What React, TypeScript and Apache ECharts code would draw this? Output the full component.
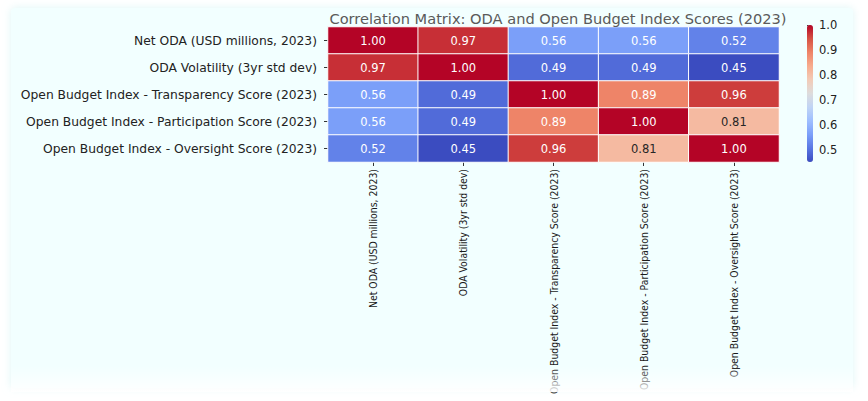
import React, { useEffect, useRef } from "react";
import * as echarts from "echarts";

const variables = [
  "Net ODA (USD millions, 2023)",
  "ODA Volatility (3yr std dev)",
  "Open Budget Index - Transparency Score (2023)",
  "Open Budget Index - Participation Score (2023)",
  "Open Budget Index - Oversight Score (2023)",
];

const matrix: number[][] = [
  [1.0, 0.97, 0.56, 0.56, 0.52],
  [0.97, 1.0, 0.49, 0.49, 0.45],
  [0.56, 0.49, 1.0, 0.89, 0.96],
  [0.56, 0.49, 0.89, 1.0, 0.81],
  [0.52, 0.45, 0.96, 0.81, 1.0],
];

const colorbarTicks = [0.5, 0.6, 0.7, 0.8, 0.9, 1.0];
const scaleMin = 0.45;
const scaleMax = 1.0;

const coolwarm = [
  "#3b4cc0", "#5977e3", "#7b9ff9", "#9ebeff", "#c0d4f5", "#dddcdc",
  "#f2cbb7", "#f7ac8e", "#ee8468", "#d65244", "#b40426",
];

function hexToRgb(h: string) {
  return [1, 3, 5].map((i) => parseInt(h.slice(i, i + 2), 16) / 255);
}

function colorAt(v: number) {
  const t = Math.min(1, Math.max(0, (v - scaleMin) / (scaleMax - scaleMin)));
  const p = t * (coolwarm.length - 1);
  const i = Math.min(coolwarm.length - 2, Math.floor(p));
  const f = p - i;
  const a = hexToRgb(coolwarm[i]);
  const b = hexToRgb(coolwarm[i + 1]);
  return a.map((x, k) => x + (b[k] - x) * f);
}

function textColorFor(v: number) {
  const c = colorAt(v).map((x) => (x <= 0.03928 ? x / 12.92 : Math.pow((x + 0.055) / 1.055, 2.4)));
  const lum = 0.2126 * c[0] + 0.7152 * c[1] + 0.0722 * c[2];
  return lum > 0.408 ? "#262626" : "#ffffff";
}

export default function App() {
  const ref = useRef<HTMLDivElement>(null);
  useEffect(() => {
    document.body.style.margin = "0";
    const chart = echarts.init(ref.current!, null, { renderer: "svg" });
    const data: any[] = [];
    matrix.forEach((row, r) =>
      row.forEach((v, c) => {
        data.push({
          value: [c, r, v],
          label: { color: textColorFor(v) },
        });
      })
    );
    const font = "'DejaVu Sans', sans-serif";
    chart.setOption({
      animation: false,
      backgroundColor: "#ffffff",
      graphic: [
        {
          type: "rect",
          z: -10,
          shape: { x: 11, y: 8, width: 842, height: 380, r: 4 },
          style: { fill: "#f2ffff", shadowBlur: 8, shadowColor: "rgba(200,240,240,0.6)" },
          silent: true,
        },
        {
          type: "rect",
          z: 100,
          shape: { x: 11, y: 366, width: 842, height: 26 },
          style: {
            fill: new echarts.graphic.LinearGradient(0, 0, 0, 1, [
              { offset: 0, color: "rgba(255,255,255,0)" },
              { offset: 1, color: "rgba(255,255,255,0.9)" },
            ]),
          },
          silent: true,
        },
      ],
      title: {
        text: "Correlation Matrix: ODA and Open Budget Index Scores (2023)",
        left: 553,
        textAlign: "center",
        top: 6,
        textStyle: { fontFamily: font, fontSize: 14.6, fontWeight: "normal", color: "#5a5a5a" },
      },
      grid: [
        { left: 328, right: 89, top: 27, bottom: 239, outerBoundsMode: "none", containLabel: false },
        { left: 807, width: 6, top: 25, bottom: 239, outerBoundsMode: "none", containLabel: false },
      ],
      xAxis: [
        {
          type: "category",
          data: variables,
          gridIndex: 0,
          position: "bottom",
          axisLine: { show: false },
          axisTick: { show: true, length: 4, lineStyle: { color: "#333" }, alignWithLabel: true },
          splitLine: { show: false },
          axisLabel: {
            rotate: 90,
            margin: 7,
            fontFamily: "'Liberation Sans Narrow', 'DejaVu Sans Condensed', sans-serif",
            fontSize: 10.4,
            color: "#1a1a1a",
            interval: 0,
          },
        },
        { type: "value", gridIndex: 1, show: false, min: 0, max: 1 },
      ],
      yAxis: [
        {
          type: "category",
          data: variables,
          gridIndex: 0,
          inverse: true,
          axisLine: { show: false },
          axisTick: { show: true, length: 4, lineStyle: { color: "#333" }, alignWithLabel: true },
          splitLine: { show: false },
          axisLabel: { margin: 11, fontFamily: font, fontSize: 12.3, color: "#222222", interval: 0 },
        },
        {
          type: "value",
          gridIndex: 1,
          min: scaleMin,
          max: scaleMax,
          position: "right",
          axisLine: { show: false },
          splitLine: { show: false },
          axisTick: { show: true, length: 4, lineStyle: { color: "#333" }, customValues: colorbarTicks },
          axisLabel: {
            margin: 6,
            fontFamily: font,
            fontSize: 11.5,
            color: "#222222",
            customValues: colorbarTicks,
            formatter: (v: number) => v.toFixed(1),
          },
        },
      ],
      visualMap: {
        type: "continuous",
        min: scaleMin,
        max: scaleMax,
        seriesIndex: 0,
        calculable: false,
        hoverLink: false,
        left: 807,
        top: 25,
        padding: 0,
        itemWidth: 6,
        itemHeight: 137,
        text: ["", ""],
        showLabel: false,
        inRange: { color: coolwarm },
      },
      series: [
        {
          type: "heatmap",
          xAxisIndex: 0,
          yAxisIndex: 0,
          data,
          itemStyle: { borderColor: "#ffffff", borderWidth: 1 },
          label: {
            show: true,
            fontFamily: font,
            fontSize: 11.5,
            formatter: (p: any) => p.value[2].toFixed(2),
          },
          emphasis: { disabled: true },
        },
      ],
    });
    return () => chart.dispose();
  }, []);
  return <div ref={ref} style={{ width: 868, height: 401 }} />;
}
